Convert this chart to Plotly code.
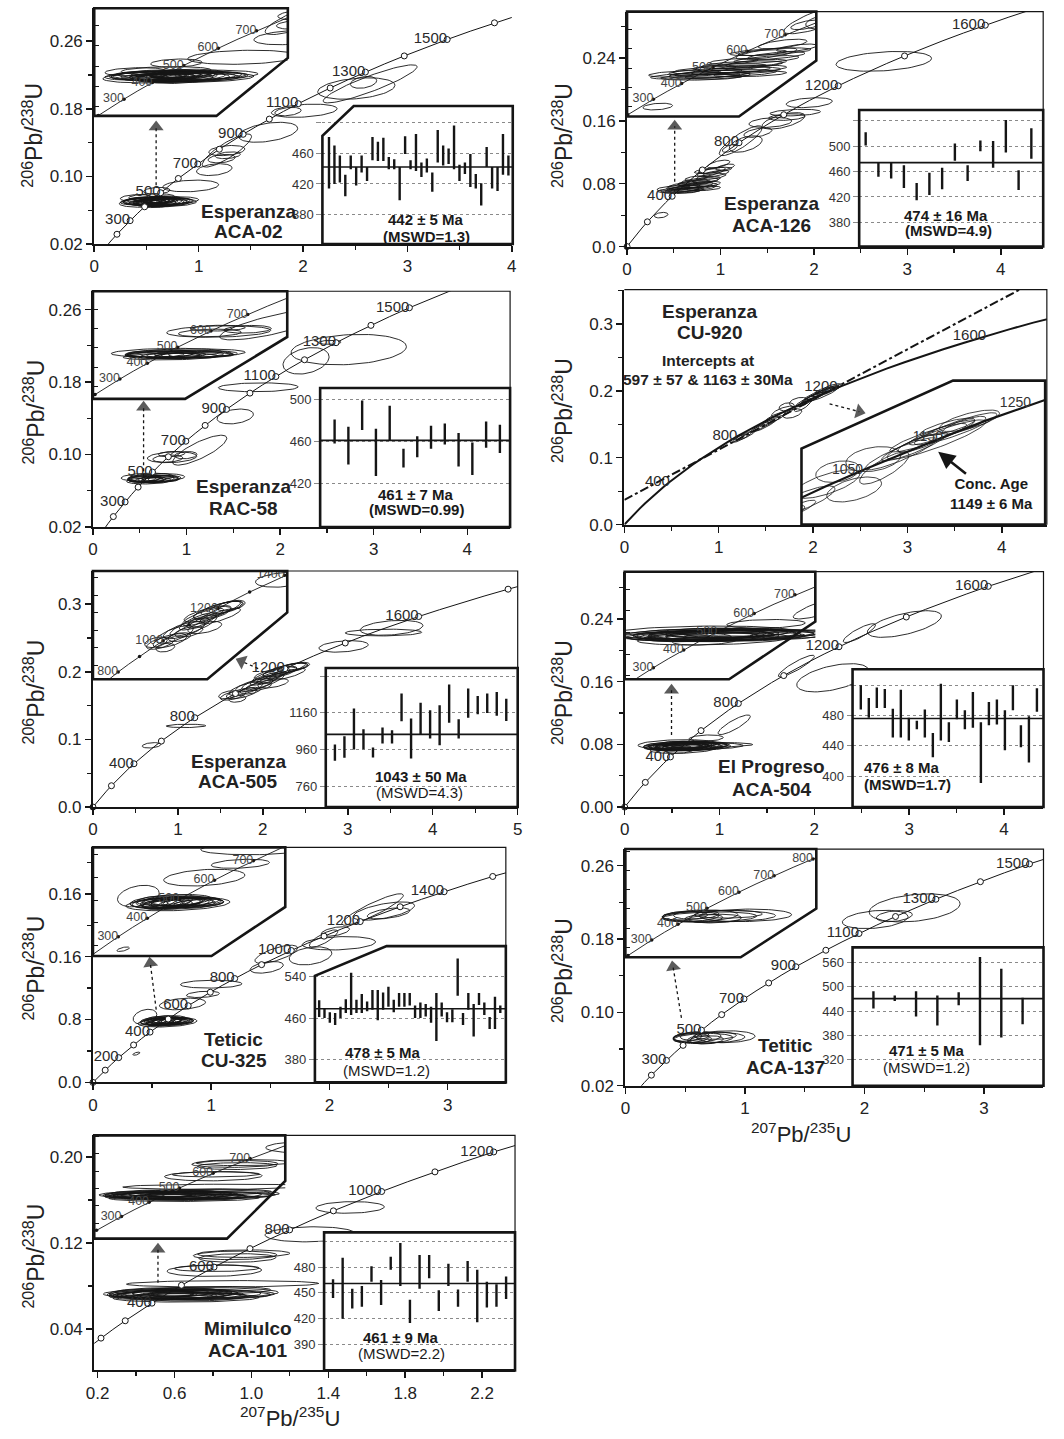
import math
import plotly.graph_objects as go

W, H = 1064, 1439
FONT = "Liberation Sans, Arial, Helvetica, sans-serif"
INK = "#151515"

# ---------------- concordia reference points (age Ma, 207Pb/235U, 206Pb/238U) ----------------
CONC_AGE = [0, 50, 100, 150, 200, 250, 300, 350, 400, 450, 500, 550, 600, 650, 700, 750,
            800, 850, 900, 950, 1000, 1050, 1100, 1150, 1200, 1250, 1300, 1350, 1400,
            1450, 1500, 1550, 1600, 1650, 1700, 1750, 1800, 1850, 1900]
CONC_X207 = [0.0, 0.0505, 0.1035, 0.1592, 0.2177, 0.2792, 0.3437, 0.4116, 0.4828, 0.5577,
             0.6363, 0.7189, 0.8056, 0.8968, 0.9925, 1.0931, 1.1987, 1.3097, 1.4263, 1.5488,
             1.6774, 1.8126, 1.9545, 2.1037, 2.2603, 2.4249, 2.5977, 2.7793, 2.9701, 3.1705,
             3.3810, 3.6021, 3.8344, 4.0784, 4.3348, 4.6040, 4.8869, 5.1841, 5.4962]
CONC_Y206 = [0.0, 0.00779, 0.01563, 0.02354, 0.03151, 0.03954, 0.04764, 0.05580, 0.06402,
             0.07230, 0.08065, 0.08906, 0.09754, 0.10609, 0.11470, 0.12338, 0.13213, 0.14094,
             0.14983, 0.15878, 0.16780, 0.17690, 0.18606, 0.19530, 0.20460, 0.21398, 0.22344,
             0.23296, 0.24256, 0.25224, 0.26199, 0.27181, 0.28172, 0.29170, 0.30175, 0.31189,
             0.32211, 0.33240, 0.34277]

# discordia intercepts, CU-920
DISC_AGE = [597, 1163]
DISC_X207 = [0.8003, 2.1436]
DISC_Y206 = [0.09703, 0.19771]

# ---------------- error ellipses (207/235, err, 206/238, err, rho) ----------------
ACA02_X = [0.50, 0.55, 0.60, 0.62, 0.58, 0.52, 0.66, 0.48, 0.57, 0.64, 0.54, 0.60, 0.70, 0.45, 0.62, 0.56, 0.68, 0.52, 0.74, 0.40, 0.65, 0.55,
           0.60, 0.924, 1.15, 1.22, 1.28, 1.271, 1.27, 1.665, 2.012, 1.856, 2.511, 2.58, 2.643,
           0.47, 0.63, 0.58, 0.71, 0.50, 0.60, 0.55, 0.67, 0.44, 0.61]
ACA02_SX = [0.22, 0.18, 0.20, 0.15, 0.12, 0.25, 0.28, 0.15, 0.10, 0.22, 0.30, 0.12, 0.25, 0.20, 0.16, 0.09, 0.30, 0.12, 0.26, 0.15, 0.18, 0.22,
            0.126, 0.268, 0.17, 0.13, 0.12, 0.236, 0.173, 0.284, 0.315, 0.126, 0.37, 0.126, 0.45,
            0.18, 0.26, 0.20, 0.20, 0.10, 0.32, 0.14, 0.12, 0.12, 0.08]
ACA02_Y = [0.0705, 0.0700, 0.0695, 0.0710, 0.0685, 0.0715, 0.0705, 0.0690, 0.0720, 0.0690, 0.0695, 0.0715, 0.0700, 0.0700, 0.0680, 0.0708, 0.0690, 0.0680, 0.0715, 0.0745, 0.0730, 0.0755,
           0.0830, 0.0887, 0.1080, 0.1210, 0.1250, 0.1306, 0.1306, 0.1522, 0.1777, 0.1767, 0.2040, 0.2113, 0.2095,
           0.0712, 0.0698, 0.0725, 0.0688, 0.0695, 0.0705, 0.0688, 0.0712, 0.0718, 0.0700]
ACA02_SY = [0.0045, 0.0040, 0.0050, 0.0040, 0.0040, 0.0050, 0.0040, 0.0035, 0.0040, 0.0045, 0.0060, 0.0030, 0.0050, 0.0040, 0.0050, 0.0030, 0.0050, 0.0040, 0.0045, 0.0040, 0.0040, 0.0040,
            0.0040, 0.0069, 0.0070, 0.0050, 0.0040, 0.0196, 0.0060, 0.0118, 0.0078, 0.0050, 0.0127, 0.0070, 0.0225,
            0.0040, 0.0045, 0.0035, 0.0040, 0.0035, 0.0050, 0.0040, 0.0035, 0.0035, 0.0030]
ACA02_RHO = [0.2, 0.2, 0.3, 0.2, 0.2, 0.3, 0.2, 0.2, 0.2, 0.2, 0.3, 0.2, 0.2, 0.2, 0.3, 0.2, 0.2, 0.2, 0.2, 0.2, 0.2, 0.2,
             0.2, 0.2, 0.3, 0.3, 0.3, 0.85, 0.3, 0.4, 0.3, 0.3, 0.3, 0.3, 0.9,
             0.2, 0.2, 0.2, 0.2, 0.2, 0.2, 0.2, 0.2, 0.2, 0.2]

ACA126_X = [0.55, 0.62, 0.70, 0.60, 0.75, 0.66, 0.80, 0.72, 0.85, 0.90, 0.95, 0.88, 0.58, 0.68, 0.78, 0.50, 0.65, 0.92, 0.82, 0.74, 1.05, 0.90, 0.98,
            0.365, 1.10, 1.216, 1.27, 1.40, 1.533, 1.674, 1.71, 1.80, 1.95, 2.748]
ACA126_SX = [0.22, 0.20, 0.25, 0.18, 0.22, 0.16, 0.20, 0.18, 0.15, 0.16, 0.14, 0.12, 0.20, 0.24, 0.20, 0.18, 0.10, 0.20, 0.18, 0.12, 0.10, 0.15, 0.12,
             0.073, 0.08, 0.229, 0.176, 0.15, 0.229, 0.229, 0.194, 0.27, 0.247, 0.511]
ACA126_Y = [0.0720, 0.0735, 0.0745, 0.0760, 0.0770, 0.0720, 0.0790, 0.0810, 0.0850, 0.0890, 0.0930, 0.0960, 0.0705, 0.0780, 0.0835, 0.0740, 0.0800, 0.0970, 0.0740, 0.0870, 0.1010, 0.0950, 0.1050,
            0.0400, 0.1250, 0.1347, 0.1305, 0.1450, 0.1579, 0.1600, 0.1648, 0.1705, 0.1831, 0.2357]
ACA126_SY = [0.0035, 0.0040, 0.0040, 0.0035, 0.0040, 0.0035, 0.0040, 0.0035, 0.0040, 0.0040, 0.0040, 0.0030, 0.0030, 0.0045, 0.0040, 0.0035, 0.0030, 0.0040, 0.0030, 0.0030, 0.0040, 0.0060, 0.0050,
             0.0035, 0.0050, 0.0190, 0.0105, 0.0060, 0.0063, 0.0105, 0.0042, 0.0042, 0.0063, 0.0126]
ACA126_RHO = [0.5, 0.5, 0.5, 0.5, 0.5, 0.4, 0.5, 0.5, 0.6, 0.6, 0.6, 0.5, 0.3, 0.5, 0.5, 0.4, 0.4, 0.6, 0.4, 0.5, 0.6, 0.7, 0.6,
              0.3, 0.6, 0.85, 0.5, 0.5, 0.3, 0.6, 0.3, 0.3, 0.3, 0.3]

RAC58_X = [0.62, 0.58, 0.66, 0.60, 0.70, 0.55, 0.64, 0.68, 0.52, 0.72, 0.62, 0.60, 0.75, 0.58,
           0.845, 0.84, 0.80, 1.14, 0.992, 1.52, 1.766, 2.277, 2.733, 2.53]
RAC58_SX = [0.25, 0.20, 0.28, 0.15, 0.22, 0.18, 0.12, 0.30, 0.15, 0.20, 0.10, 0.24, 0.16, 0.28,
            0.264, 0.14, 0.16, 0.29, 0.12, 0.194, 0.426, 0.246, 0.616, 0.12]
RAC58_Y = [0.0730, 0.0725, 0.0735, 0.0720, 0.0728, 0.0740, 0.0715, 0.0745, 0.0732, 0.0722, 0.0738, 0.0710, 0.0735, 0.0750,
           0.0970, 0.1005, 0.0955, 0.1048, 0.0993, 0.1420, 0.1742, 0.2034, 0.2158, 0.2238]
RAC58_SY = [0.0040, 0.0035, 0.0040, 0.0030, 0.0035, 0.0040, 0.0030, 0.0045, 0.0035, 0.0030, 0.0030, 0.0035, 0.0035, 0.0045,
            0.0060, 0.0030, 0.0040, 0.0165, 0.0040, 0.0082, 0.0049, 0.0146, 0.0168, 0.0022]
RAC58_RHO = [0.2, 0.2, 0.2, 0.2, 0.2, 0.2, 0.2, 0.2, 0.2, 0.2, 0.2, 0.2, 0.2, 0.2,
             0.2, 0.2, 0.2, 0.8, 0.2, 0.3, 0.1, 0.3, 0.2, 0.1]

CU920_X = [1.20, 1.25, 1.30, 1.42, 1.48, 1.54, 1.60, 1.68, 1.72, 1.78, 1.85, 1.89, 1.95, 2.00, 2.05, 2.10, 2.15, 2.20, 2.08, 2.12, 2.02, 2.18]
CU920_SX = [0.08, 0.10, 0.08, 0.09, 0.12, 0.10, 0.11, 0.12, 0.08, 0.10, 0.10, 0.09, 0.13, 0.12, 0.14, 0.12, 0.15, 0.11, 0.18, 0.10, 0.08, 0.08]
CU920_Y = [0.1285, 0.1310, 0.1335, 0.1440, 0.1480, 0.1530, 0.1600, 0.1690, 0.1760, 0.1660, 0.1830, 0.1780, 0.1860, 0.1900, 0.1950, 0.1980, 0.2000, 0.2045, 0.1940, 0.2010, 0.1920, 0.2020]
CU920_SY = [0.0060, 0.0080, 0.0060, 0.0060, 0.0090, 0.0070, 0.0080, 0.0080, 0.0060, 0.0070, 0.0070, 0.0090, 0.0090, 0.0080, 0.0080, 0.0070, 0.0090, 0.0060, 0.0110, 0.0050, 0.0050, 0.0050]
CU920_RHO = [0.9, 0.9, 0.9, 0.9, 0.9, 0.9, 0.8, 0.7, 0.3, 0.5, 0.3, 0.8, 0.9, 0.9, 0.9, 0.9, 0.9, 0.7, 0.9, 0.8, 0.8, 0.8]

ACA505_X = [1.65, 1.75, 1.80, 1.90, 2.00, 2.05, 2.10, 2.15, 2.20, 2.25, 2.30, 2.35, 1.95, 2.05, 1.85, 2.40, 1.70, 2.12, 1.60, 2.28,
            0.69, 1.095, 2.95, 3.42, 3.515]
ACA505_SX = [0.15, 0.18, 0.20, 0.22, 0.25, 0.20, 0.22, 0.25, 0.20, 0.25, 0.22, 0.18, 0.15, 0.12, 0.12, 0.15, 0.10, 0.18, 0.12, 0.22,
             0.11, 0.233, 0.29, 0.45, 0.37]
ACA505_Y = [0.165, 0.168, 0.175, 0.180, 0.185, 0.190, 0.195, 0.198, 0.200, 0.203, 0.205, 0.206, 0.178, 0.188, 0.172, 0.208, 0.160, 0.183, 0.166, 0.196,
            0.0913, 0.1200, 0.2375, 0.2580, 0.2650]
ACA505_SY = [0.007, 0.008, 0.010, 0.010, 0.012, 0.010, 0.010, 0.009, 0.008, 0.010, 0.008, 0.007, 0.006, 0.006, 0.005, 0.006, 0.005, 0.007, 0.006, 0.009,
             0.004, 0.0025, 0.0085, 0.005, 0.011]
ACA505_RHO = [0.6, 0.6, 0.7, 0.7, 0.8, 0.8, 0.8, 0.7, 0.7, 0.8, 0.7, 0.6, 0.5, 0.5, 0.4, 0.5, 0.3, 0.5, 0.4, 0.8,
              0.3, 0.1, 0.3, 0.1, 0.3]

ACA504_X = [0.60, 0.55, 0.65, 0.62, 0.58, 0.70, 0.52, 0.68, 0.60, 0.75, 0.66, 0.56, 0.64, 0.72, 0.50, 0.78, 0.62, 0.90, 0.58,
            0.86, 1.155, 1.81, 2.195, 2.475, 2.95,
            0.64, 0.60, 0.70, 0.57, 0.66]
ACA504_SX = [0.40, 0.35, 0.45, 0.30, 0.25, 0.38, 0.30, 0.28, 0.20, 0.50, 0.18, 0.42, 0.22, 0.32, 0.20, 0.30, 0.35, 0.45, 0.15,
             0.18, 0.17, 0.19, 0.38, 0.17, 0.39,
             0.38, 0.28, 0.42, 0.32, 0.26]
ACA504_Y = [0.0780, 0.0770, 0.0785, 0.0760, 0.0790, 0.0775, 0.0765, 0.0795, 0.0770, 0.0780, 0.0760, 0.0800, 0.0785, 0.0765, 0.0755, 0.0790, 0.0740, 0.0795, 0.0725,
            0.0880, 0.1050, 0.1800, 0.1650, 0.2220, 0.2336,
            0.0772, 0.0782, 0.0768, 0.0778, 0.0788]
ACA504_SY = [0.0060, 0.0050, 0.0055, 0.0045, 0.0050, 0.0050, 0.0045, 0.0040, 0.0040, 0.0045, 0.0035, 0.0060, 0.0035, 0.0040, 0.0040, 0.0040, 0.0055, 0.0030, 0.0040,
             0.0040, 0.0125, 0.0138, 0.0180, 0.0120, 0.0170,
             0.0050, 0.0045, 0.0050, 0.0045, 0.0040]
ACA504_RHO = [0.2, 0.2, 0.2, 0.2, 0.2, 0.2, 0.2, 0.2, 0.2, 0.1, 0.2, 0.2, 0.2, 0.2, 0.2, 0.1, 0.3, 0.1, 0.3,
              0.2, 0.85, 0.9, 0.5, 0.85, 0.6,
              0.2, 0.2, 0.2, 0.2, 0.2]

CU325_X = [0.60, 0.62, 0.58, 0.65, 0.60, 0.55, 0.68, 0.63, 0.57, 0.66, 0.61, 0.70, 0.75, 0.44, 0.52,
           0.367, 0.757, 0.93, 1.00, 1.47, 1.55, 1.84, 2.08, 1.95, 2.05, 2.365, 2.46, 2.50,
           0.59, 0.64, 0.56, 0.62, 0.67, 0.60, 0.71, 0.58]
CU325_SX = [0.15, 0.12, 0.18, 0.20, 0.10, 0.14, 0.12, 0.25, 0.08, 0.08, 0.18, 0.15, 0.10, 0.10, 0.06,
            0.03, 0.195, 0.14, 0.26, 0.14, 0.18, 0.18, 0.31, 0.12, 0.12, 0.26, 0.26, 0.18,
            0.16, 0.14, 0.10, 0.22, 0.16, 0.06, 0.10, 0.12]
CU325_Y = [0.0780, 0.0775, 0.0785, 0.0770, 0.0790, 0.0775, 0.0780, 0.0765, 0.0770, 0.0785, 0.0800, 0.0775, 0.0780, 0.0835, 0.0760,
           0.0366, 0.0998, 0.1120, 0.1250, 0.1464, 0.1630, 0.1610, 0.1770, 0.1830, 0.1920, 0.2200, 0.2180, 0.2150,
           0.0782, 0.0772, 0.0795, 0.0779, 0.0790, 0.0770, 0.0768, 0.0760]
CU325_SY = [0.0050, 0.0040, 0.0060, 0.0050, 0.0040, 0.0050, 0.0040, 0.0060, 0.0035, 0.0035, 0.0050, 0.0040, 0.0030, 0.0095, 0.0040,
            0.0020, 0.0074, 0.0040, 0.0050, 0.0074, 0.0115, 0.0115, 0.0085, 0.0110, 0.0060, 0.0200, 0.0116, 0.0070,
            0.0045, 0.0045, 0.0040, 0.0050, 0.0040, 0.0030, 0.0035, 0.0045]
CU325_RHO = [0.3, 0.3, 0.3, 0.3, 0.3, 0.3, 0.3, 0.3, 0.3, 0.3, 0.3, 0.2, 0.2, 0.3, 0.3,
             0.6, 0.3, 0.3, 0.1, 0.4, 0.7, 0.3, 0.2, 0.8, 0.5, 0.9, 0.6, 0.5,
             0.3, 0.3, 0.3, 0.3, 0.3, 0.3, 0.3, 0.3]

ACA137_X = [0.55, 0.60, 0.65, 0.58, 0.70, 0.84, 0.62, 0.52, 0.75, 0.68, 2.09, 2.42, 2.25]
ACA137_SX = [0.15, 0.20, 0.25, 0.12, 0.30, 0.245, 0.10, 0.12, 0.18, 0.14, 0.275, 0.38, 0.15]
ACA137_Y = [0.0720, 0.0730, 0.0715, 0.0740, 0.0725, 0.0734, 0.0705, 0.0730, 0.0745, 0.0700, 0.2014, 0.2140, 0.2050]
ACA137_SY = [0.0050, 0.0060, 0.0055, 0.0045, 0.0060, 0.0065, 0.0040, 0.0045, 0.0040, 0.0045, 0.0100, 0.0153, 0.0060]
ACA137_RHO = [0.2, 0.2, 0.2, 0.2, 0.1, 0.1, 0.2, 0.2, 0.1, 0.2, 0.3, 0.3, 0.3]

ACA101_X = [0.60, 0.65, 0.70, 0.55, 0.62, 0.58, 0.68, 0.52, 0.75, 0.63, 0.57, 0.72, 0.48, 0.66, 0.60, 0.80, 0.85,
            0.807, 0.82, 0.915, 0.927, 0.96, 1.305, 1.513,
            0.62, 0.68, 0.56, 0.72, 0.64, 0.54]
ACA101_SX = [0.30, 0.40, 0.44, 0.25, 0.20, 0.35, 0.30, 0.18, 0.35, 0.15, 0.28, 0.25, 0.22, 0.38, 0.12, 0.30, 0.50,
             0.246, 0.22, 0.217, 0.20, 0.24, 0.234, 0.178,
             0.34, 0.22, 0.30, 0.40, 0.26, 0.16]
ACA101_Y = [0.0720, 0.0725, 0.0735, 0.0715, 0.0710, 0.0730, 0.0700, 0.0725, 0.0715, 0.0735, 0.0745, 0.0705, 0.0720, 0.0690, 0.0725, 0.0760, 0.0820,
            0.0943, 0.0964, 0.1085, 0.1060, 0.1100, 0.1280, 0.1530,
            0.0718, 0.0728, 0.0708, 0.0722, 0.0740, 0.0732]
ACA101_SY = [0.0040, 0.0045, 0.0050, 0.0040, 0.0035, 0.0045, 0.0040, 0.0035, 0.0040, 0.0035, 0.0040, 0.0035, 0.0040, 0.0040, 0.0030, 0.0035, 0.0030,
             0.0054, 0.0030, 0.0040, 0.0040, 0.0035, 0.0070, 0.0054,
             0.0042, 0.0038, 0.0040, 0.0045, 0.0035, 0.0035]
ACA101_RHO = [0.1, 0.1, 0.1, 0.1, 0.1, 0.1, 0.1, 0.1, 0.1, 0.1, 0.1, 0.1, 0.1, 0.1, 0.1, 0.1, 0.1,
              0.1, 0.1, 0.1, 0.1, 0.1, 0.1, 0.1,
              0.1, 0.1, 0.1, 0.1, 0.1, 0.1]

# ---------------- weighted-mean 206Pb/238U ages (Ma): lower / upper error limits ----------------
WM_ACA02_LO = [414, 420, 422, 404, 439, 418, 435, 424, 451, 450, 450, 439, 439, 399, 459, 439, 437, 429, 435, 410, 448, 444, 446, 439, 424, 433, 416, 414, 392, 442, 414, 411, 432, 431]
WM_ACA02_HI = [481, 470, 457, 432, 457, 442, 457, 442, 481, 475, 480, 455, 452, 442, 482, 451, 485, 448, 453, 435, 490, 470, 466, 496, 445, 448, 459, 433, 421, 468, 442, 442, 485, 457]
WM_ACA126_LO = [501, 452, 449, 434, 415, 423, 432, 477, 445, 492, 466, 490, 431, 480]
WM_ACA126_HI = [522, 475, 475, 470, 442, 458, 466, 504, 470, 509, 508, 541, 462, 528]
WM_RAC58_LO = [458, 438, 471, 427, 461, 435, 445, 453, 457, 436, 428, 454, 449]
WM_RAC58_HI = [481, 474, 499, 472, 494, 453, 465, 475, 477, 468, 459, 479, 476]
WM_ACA505_LO = [898, 915, 960, 962, 916, 993, 993, 1115, 911, 1042, 1020, 984, 1107, 1020, 1133, 1153, 1160, 1144, 1116]
WM_ACA505_HI = [987, 1033, 1184, 1071, 971, 1080, 1066, 1266, 1129, 1215, 1175, 1202, 1316, 1126, 1293, 1253, 1266, 1275, 1238]
WM_ACA504_LO = [488, 477, 490, 490, 451, 451, 447, 462, 451, 425, 447, 445, 475, 462, 464, 391, 467, 468, 434, 487, 438, 418, 485]
WM_ACA504_HI = [520, 503, 517, 515, 489, 514, 477, 473, 488, 457, 522, 471, 501, 487, 511, 471, 498, 501, 487, 520, 467, 479, 516]
WM_CU325_LO = [462, 460, 451, 447, 460, 470, 466, 470, 470, 473, 476, 456, 476, 482, 471, 482, 482, 484, 460, 460, 463, 451, 416, 463, 452, 452, 503, 447, 476, 425, 485, 466, 439, 439, 470]
WM_CU325_HI = [494, 479, 471, 470, 482, 496, 547, 495, 506, 492, 514, 514, 509, 520, 495, 508, 508, 508, 484, 490, 487, 482, 508, 490, 471, 477, 574, 470, 508, 487, 508, 490, 462, 501, 484]
WM_ACA137_LO = [447, 465, 427, 405, 455, 356, 375, 408]
WM_ACA137_HI = [489, 479, 489, 479, 487, 574, 545, 473]
WM_ACA101_LO = [444, 420, 432, 434, 463, 436, 477, 458, 415, 455, 467, 429, 458, 434, 463, 416, 433, 434, 443]
WM_ACA101_HI = [466, 491, 455, 458, 481, 465, 492, 508, 442, 494, 494, 453, 484, 454, 487, 477, 463, 460, 469]
WM_MEAN = [442, 474, 461, None, 1043, 476, 478, 471, 461]

# ---------------- tick values / labels ----------------
XT_0_4 = [0, 1, 2, 3, 4]
XT_0_5 = [0, 1, 2, 3, 4, 5]
XT_0_3 = [0, 1, 2, 3]
XT_P9 = [0.2, 0.6, 1.0, 1.4, 1.8, 2.2]
XTL_P9 = ["0.2", "0.6", "1.0", "1.4", "1.8", "2.2"]
YT_A = [0.02, 0.10, 0.18, 0.26]
YTL_A = ["0.02", "0.10", "0.18", "0.26"]
YT_B = [0.0, 0.08, 0.16, 0.24]
YTL_P2 = ["0.0", "0.08", "0.16", "0.24"]
YTL_P6 = ["0.00", "0.08", "0.16", "0.24"]
YTL_P7 = ["0.0", "0.8", "0.16", "0.16"]
YT_C = [0.0, 0.1, 0.2, 0.3]
YTL_C = ["0.0", "0.1", "0.2", "0.3"]
YT_P9 = [0.04, 0.12, 0.20]
YTL_P9 = ["0.04", "0.12", "0.20"]

WMT_P1 = ([380, 420, 460, 500], ["380", "420", "460", ""])
WMT_P2 = ([380, 420, 460, 500, 540], ["380", "420", "460", "500", ""])
WMT_P3 = ([420, 460, 500], ["420", "460", "500"])
WMT_P5 = ([760, 960, 1160, 1360], ["760", "960", "1160", ""])
WMT_P6 = ([400, 440, 480, 520], ["400", "440", "480", ""])
WMT_P7 = ([380, 460, 540], ["380", "460", "540"])
WMT_P8 = ([320, 380, 440, 500, 560], ["320", "380", "440", "500", "560"])
WMT_P9 = ([390, 420, 450, 480, 510], ["390", "420", "450", "480", ""])

# concordia age labels
LAB_ODD = [300, 500, 700, 900, 1100, 1300, 1500]
LAB_400 = [400, 800, 1200, 1600]
LAB_P7 = [200, 400, 600, 800, 1000, 1200, 1400]
LAB_P9 = [400, 600, 800, 1000, 1200]
LAB_IN = [300, 400, 500, 600, 700]

# ---------------- helpers ----------------
def X(px):
    return px / W


def Y(py):
    return 1.0 - py / H


def ids(i):
    s = "" if i == 1 else str(i)
    return "xaxis" + s, "yaxis" + s, "x" + s, "y" + s


def ell_xy(ex, esx, ey, esy, erho, n=72):
    xs, ys = [], []
    for cx, sx, cy, sy, r in zip(ex, esx, ey, esy, erho):
        q = math.sqrt(max(0.0, 1 - r * r))
        for k in range(n + 1):
            t = 2 * math.pi * k / n
            xs.append(cx + sx * math.cos(t))
            ys.append(cy + sy * (r * math.cos(t) + q * math.sin(t)))
        xs.append(None)
        ys.append(None)
    return xs, ys


def mids(majors, lo, hi):
    st = majors[1] - majors[0]
    c = [majors[0] - st / 2] + [m + st / 2 for m in majors]
    return [v for v in c if lo - 1e-9 <= v <= hi + 1e-9]


def bbox(poly):
    xs = [p[0] for p in poly]
    ys = [p[1] for p in poly]
    return min(xs), max(xs), min(ys), max(ys)


def to_data(px, py, box, xr, yr):
    x0, x1, yt, yb = box
    return (xr[0] + (px - x0) / (x1 - x0) * (xr[1] - xr[0]),
            yr[0] + (yb - py) / (yb - yt) * (yr[1] - yr[0]))


def inside(x, y, xr, yr):
    return xr[0] <= x <= xr[1] and yr[0] <= y <= yr[1]


PANELS = [
    dict(ell=(ACA02_X, ACA02_SX, ACA02_Y, ACA02_SY, ACA02_RHO),
         main=(87.3, 510.0, 8.3, 245.7), xr=(0, 4), yr=(0.02, 0.299),
         xt=(XT_0_4, [str(v) for v in XT_0_4]), yt=(YT_A, YTL_A), lab=LAB_ODD, node=100, mirror=False, cw=1.0,
         ytitle=(25, 136), names=[("Esperanza", 243.3, 213.3), ("ACA-02", 243.3, 233.3)],
         arrow=(0.593, 0.0894, 0.593, 0.1585),
         tl=dict(poly=[(87.3, 116.7), (87.3, 8.3), (283.3, 8.3), (283.3, 58.3), (211, 116.7)],
                 xr=(0.198, 1.146), yr=(0.0312, 0.1368), lab=LAB_IN),
         wm=dict(poly=[(318.3, 245.7), (318.3, 136.7), (350, 106.7), (511, 106.7), (511, 245.7)],
                 xr=(-0.21, 34.8), yr=(342.0, 521.4), tk=WMT_P1, lo=WM_ACA02_LO, hi=WM_ACA02_HI,
                 txt=[("442 ± 5 Ma", 423.3, 220.7, True, "center"), ("(MSWD=1.3)", 423.3, 238.3, True, "center")])),
    dict(ell=(ACA126_X, ACA126_SX, ACA126_Y, ACA126_SY, ACA126_RHO),
         main=(626.7, 1048.0, 11.7, 248.3), xr=(0, 4.454), yr=(0.0, 0.299),
         xt=(XT_0_4, [str(v) for v in XT_0_4]), yt=(YT_B, YTL_P2), lab=LAB_400, node=200, mirror=True, cw=1.0,
         ytitle=(561.7, 136), names=[("Esperanza", 773.3, 205), ("ACA-126", 773.3, 226.7)],
         arrow=(0.51, 0.0825, 0.51, 0.153),
         tl=dict(poly=[(626.7, 117.3), (626.7, 11.7), (818.3, 11.7), (818.3, 61), (740, 117.3)],
                 xr=(0.214, 1.146), yr=(0.0297, 0.1387), lab=LAB_IN),
         wm=dict(poly=[(861.7, 248.3), (861.7, 110.7), (1048, 110.7), (1048, 248.3)],
                 xr=(0.49, 14.93), yr=(341.9, 557.0), tk=WMT_P2, lo=WM_ACA126_LO, hi=WM_ACA126_HI,
                 txt=[("474 ± 16 Ma", 950, 216.7, True, "center"), ("(MSWD=4.9)", 951.7, 231.7, True, "center")])),
    dict(ell=(RAC58_X, RAC58_SX, RAC58_Y, RAC58_SY, RAC58_RHO),
         main=(86.0, 508.3, 293.3, 530.7), xr=(0, 4.457), yr=(0.02, 0.2802),
         xt=(XT_0_4, [str(v) for v in XT_0_4]), yt=(YT_A, YTL_A), lab=LAB_ODD, node=100, mirror=True, cw=1.0,
         ytitle=(26.7, 415), names=[("Esperanza", 238.3, 490), ("RAC-58", 238.3, 511.7)],
         arrow=(0.541, 0.0682, 0.541, 0.1523),
         tl=dict(poly=[(86, 401.7), (86, 293.3), (282.7, 293.3), (282.7, 339.3), (179.3, 401.7)],
                 xr=(0.207, 1.193), yr=(0.027, 0.1388), lab=LAB_IN),
         wm=dict(poly=[(316, 530.7), (316, 390.7), (508.3, 390.7), (508.3, 530.7)],
                 xr=(-0.05, 13.74), yr=(378.3, 511.0), tk=WMT_P3, lo=WM_RAC58_LO, hi=WM_RAC58_HI,
                 txt=[("461 ± 7 Ma", 413.3, 498.3, True, "center"), ("(MSWD=0.99)", 413.3, 513.3, True, "center")])),
    dict(ell=(CU920_X, CU920_SX, CU920_Y, CU920_SY, CU920_RHO),
         main=(624.0, 1051.7, 291.7, 528.3), xr=(0, 4.478), yr=(0.0, 0.351),
         xt=(XT_0_4, [str(v) for v in XT_0_4]), yt=(YT_C, YTL_C), lab=LAB_400, node=None, mirror=True, cw=2.0,
         ytitle=(561.7, 413), names=[("Esperanza", 710, 313.3), ("CU-920", 710, 335)],
         arrow=(2.175, 0.1804, 2.49, 0.1687), disc=True,
         tl=None,
         conc=dict(poly=[(803.3, 528.3), (803.3, 451.7), (956.7, 383.3), (1050, 383.3), (1050, 528.3)],
                   xr=(1.588, 2.4765), yr=(0.1463, 0.2270), lab=[1050, 1150, 1250])),
    dict(ell=(ACA505_X, ACA505_SX, ACA505_Y, ACA505_SY, ACA505_RHO),
         main=(86.0, 516.0, 575.0, 812.7), xr=(0, 5), yr=(0.0, 0.349),
         xt=(XT_0_5, [str(v) for v in XT_0_5]), yt=(YT_C, YTL_C), lab=LAB_400, node=200, mirror=True, cw=1.0,
         ytitle=(26.7, 697), names=[("Esperanza", 233.3, 766.7), ("ACA-505", 233.3, 786.7)],
         arrow=(1.945, 0.2047, 1.75, 0.2155),
         tl=dict(poly=[(86, 684), (86, 575), (282.7, 575), (282.7, 616.7), (201.7, 684)],
                 xr=(0.93, 2.998), yr=(0.1238, 0.2475), lab=[800, 1000, 1200, 1400]),
         wm=dict(poly=[(321.7, 812.7), (321.7, 672.7), (516, 672.7), (516, 812.7)],
                 xr=(0.04, 20.2), yr=(645.4, 1405.5), tk=WMT_P5, lo=WM_ACA505_LO, hi=WM_ACA505_HI,
                 txt=[("1043 ± 50 Ma", 418.3, 781.7, True, "center"), ("(MSWD=4.3)", 416.7, 798.3, False, "center")])),
    dict(ell=(ACA504_X, ACA504_SX, ACA504_Y, ACA504_SY, ACA504_RHO),
         main=(624.3, 1048.3, 575.7, 812.7), xr=(0, 4.417), yr=(0.0, 0.3004),
         xt=(XT_0_4, [str(v) for v in XT_0_4]), yt=(YT_B, YTL_P6), lab=LAB_400, node=200, mirror=True, cw=1.0,
         ytitle=(561.7, 697), names=[("El Progreso", 773.3, 771.7), ("ACA-504", 773.3, 795)],
         arrow=(0.494, 0.0921, 0.494, 0.149),
         tl=dict(poly=[(624.3, 684), (624.3, 575.7), (817.3, 575.7), (817.3, 626), (730, 684)],
                 xr=(0.212, 1.086), yr=(0.037, 0.136), lab=LAB_IN),
         wm=dict(poly=[(855, 812.7), (855, 674), (1048.3, 674), (1048.3, 812.7)],
                 xr=(-0.03, 23.82), yr=(359.1, 541.0), tk=WMT_P6, lo=WM_ACA504_LO, hi=WM_ACA504_HI,
                 txt=[("476 ± 8 Ma", 865, 773.3, True, "left"), ("(MSWD=1.7)", 865, 790, True, "left")])),
    dict(ell=(CU325_X, CU325_SX, CU325_Y, CU325_SY, CU325_RHO),
         main=(86.0, 504.0, 853.3, 1090.0), xr=(0, 3.492), yr=(0.0, 0.299),
         xt=(XT_0_3, [str(v) for v in XT_0_3]), yt=(YT_B, YTL_P7), lab=LAB_P7, node=100, mirror=True, cw=1.0,
         ytitle=(26.7, 975), names=[("Teticic", 228.3, 1046.7), ("CU-325", 228.3, 1068.3)],
         arrow=(0.535, 0.0926, 0.485, 0.1516),
         tl=dict(poly=[(86, 962.7), (86, 853.3), (280.7, 853.3), (280.7, 913.3), (206, 962.7)],
                 xr=(0.222, 1.146), yr=(0.0306, 0.1265), lab=LAB_IN),
         wm=dict(poly=[(310.7, 1090), (310.7, 982.7), (383.3, 952.7), (504, 952.7), (504, 1090)],
                 xr=(0.2, 36.04), yr=(336.8, 598.0), tk=WMT_P7, lo=WM_CU325_LO, hi=WM_CU325_HI,
                 txt=[("478 ± 5 Ma", 380, 1060, True, "center"), ("(MSWD=1.2)", 383.3, 1078.3, False, "center")])),
    dict(ell=(ACA137_X, ACA137_SX, ACA137_Y, ACA137_SY, ACA137_RHO),
         main=(625.0, 1048.3, 855.0, 1093.3), xr=(0, 3.498), yr=(0.02, 0.2782),
         xt=(XT_0_3, [str(v) for v in XT_0_3]), yt=(YT_A, YTL_A), lab=LAB_ODD, node=100, mirror=True, cw=1.0,
         ytitle=(561.7, 977), names=[("Tetitic", 786.7, 1053.3), ("ACA-137", 786.7, 1075)],
         arrow=(0.469, 0.094, 0.399, 0.1496),
         tl=dict(poly=[(625, 964), (625, 855), (818.3, 855), (818.3, 915), (741.7, 964)],
                 xr=(0.204, 1.216), yr=(0.0297, 0.1424), lab=[300, 400, 500, 600, 700, 800]),
         wm=dict(poly=[(855, 1093.3), (855, 954), (1048.3, 954), (1048.3, 1093.3)],
                 xr=(0.02, 8.98), yr=(256.3, 597.5), tk=WMT_P8, lo=WM_ACA137_LO, hi=WM_ACA137_HI,
                 txt=[("471 ± 5 Ma", 930, 1058.3, True, "center"), ("(MSWD=1.2)", 930, 1075, False, "center")])),
    dict(ell=(ACA101_X, ACA101_SX, ACA101_Y, ACA101_SY, ACA101_RHO),
         main=(87.3, 513.3, 1143.3, 1380.0), xr=(0.1825, 2.371), yr=(0.0015, 0.22),
         xt=(XT_P9, XTL_P9), yt=(YT_P9, YTL_P9), lab=LAB_P9, node=100, mirror=True, cw=1.0,
         ytitle=(26.7, 1265), names=[("Mimilulco", 243.3, 1338.3), ("ACA-101", 243.3, 1360)],
         arrow=(0.514, 0.083, 0.514, 0.1142),
         tl=dict(poly=[(87.3, 1247.3), (87.3, 1143.3), (280.7, 1143.3), (280.7, 1189.3), (221.7, 1247.3)],
                 xr=(0.206, 1.170), yr=(0.0219, 0.1416), lab=LAB_IN),
         wm=dict(poly=[(320, 1380), (320, 1241), (513.3, 1241), (513.3, 1380)],
                 xr=(0.07, 19.93), yr=(359.9, 520.4), tk=WMT_P9, lo=WM_ACA101_LO, hi=WM_ACA101_HI,
                 txt=[("461 ± 9 Ma", 398.3, 1346.7, True, "center"), ("(MSWD=2.2)", 398.3, 1363.3, False, "center")])),
]

fig = go.Figure()
lay = {}
shapes = []
annos = []


def txt(s, px, py, size, bold=False, color="#1a1a1a", xanchor="center", angle=0):
    annos.append(dict(text=("<b>%s</b>" % s) if bold else s, x=X(px), y=Y(py), xref="paper", yref="paper",
                      showarrow=False, xanchor=xanchor, yanchor="middle", textangle=angle,
                      font=dict(size=size, color=color, family=FONT)))


def add(tr, xa, ya):
    tr.update(xaxis=xa, yaxis=ya, hoverinfo="skip", showlegend=False)
    fig.add_trace(tr)


def poly_shapes(poly, box, xr, yr, xa, ya):
    pts = [to_data(px, py, box, xr, yr) for px, py in poly]
    path = "M " + " L ".join("%.6f,%.6f" % p for p in pts) + " Z"
    shapes.append(dict(type="path", path=path, xref=xa, yref=ya, layer="below",
                       fillcolor="white", line=dict(width=0)))
    ppath = "M " + " L ".join("%.6f,%.6f" % (X(px), Y(py)) for px, py in poly) + " Z"
    shapes.append(dict(type="path", path=ppath, xref="paper", yref="paper", layer="above",
                       fillcolor="rgba(0,0,0,0)", line=dict(color=INK, width=2.6)))


tl_id = 10
for pi, P in enumerate(PANELS):
    mi = pi + 1
    xk, yk, mx, my = ids(mi)
    x0, x1, yt, yb = P["main"]
    xtv, xtt = P["xt"]
    ytv, ytt = P["yt"]
    common = dict(showline=True, linewidth=2, linecolor=INK, mirror=False, ticks="outside",
                  ticklen=6, tickwidth=1.5, tickcolor=INK, showgrid=False, zeroline=False,
                  tickfont=dict(size=17, color="#222", family=FONT), tickmode="array", fixedrange=True)
    lay[xk] = dict(domain=[X(x0), X(x1)], range=list(P["xr"]), anchor=my, tickvals=xtv, ticktext=xtt,
                   minor=dict(ticks="outside", ticklen=4, tickwidth=1.2, tickcolor=INK, tickmode="array",
                              tickvals=mids(xtv, *P["xr"]), showgrid=False), **common)
    lay[yk] = dict(domain=[Y(yb), Y(yt)], range=list(P["yr"]), anchor=mx, tickvals=ytv, ticktext=ytt,
                   minor=dict(ticks="outside", ticklen=4, tickwidth=1.2, tickcolor=INK, tickmode="array",
                              tickvals=mids(ytv, *P["yr"]), showgrid=False), **common)
    if P["mirror"]:
        shapes.append(dict(type="path", xref="paper", yref="paper", layer="below",
                           path="M %f,%f L %f,%f L %f,%f" % (X(x0), Y(yt), X(x1), Y(yt), X(x1), Y(yb)),
                           line=dict(color=INK, width=1.2)))

    ex, ey = ell_xy(*P["ell"])
    # concordia
    add(go.Scatter(x=CONC_X207, y=CONC_Y206, mode="lines", line=dict(color=INK, width=P["cw"])), mx, my)
    if P.get("disc"):
        sl = (DISC_Y206[1] - DISC_Y206[0]) / (DISC_X207[1] - DISC_X207[0])
        y0 = DISC_Y206[0] - sl * DISC_X207[0]
        add(go.Scatter(x=[0, P["xr"][1]], y=[y0, y0 + sl * P["xr"][1]], mode="lines",
                       line=dict(color=INK, width=2, dash="dashdot")), mx, my)
    add(go.Scatter(x=ex, y=ey, mode="lines", line=dict(color=INK, width=0.9)), mx, my)
    if P["node"]:
        sel = [(x, y) for a, x, y in zip(CONC_AGE, CONC_X207, CONC_Y206)
               if a % P["node"] == 0 and inside(x, y, P["xr"], P["yr"])]
        add(go.Scatter(x=[s[0] for s in sel], y=[s[1] for s in sel], mode="markers", cliponaxis=False,
                       marker=dict(symbol="circle", size=6, color="white", line=dict(color=INK, width=1))), mx, my)
    lab = [(a, x, y) for a, x, y in zip(CONC_AGE, CONC_X207, CONC_Y206) if a in P["lab"]]
    add(go.Scatter(x=[l[1] for l in lab], y=[l[2] for l in lab], text=[str(l[0]) for l in lab],
                   mode="text", textposition="middle left", cliponaxis=False,
                   textfont=dict(size=15, color="#2a2a2a", family=FONT)), mx, my)
    a = P["arrow"]
    add(go.Scatter(x=[a[0], a[2]], y=[a[1], a[3]], mode="lines+markers",
                   line=dict(color=INK, width=1.3, dash="dot"),
                   marker=dict(symbol="triangle-up", size=[0, 13], color=INK, angleref="previous",
                               line=dict(width=0))), mx, my)

    # y title
    txt("<sup>206</sup>Pb/<sup>238</sup>U", P["ytitle"][0], P["ytitle"][1], 23, angle=-90, color="#222")
    for s, px, py in P["names"]:
        txt(s, px, py, 19, bold=True, color="#222")

    # top-left zoom inset
    T = P.get("tl")
    if T:
        xk2, yk2, ix, iy = ids(tl_id)
        tl_id += 1
        bx0, bx1, by0, by1 = bbox(T["poly"])
        lay[xk2] = dict(domain=[X(bx0), X(bx1)], range=list(T["xr"]), anchor=iy, showline=False,
                        showticklabels=False, ticks="", showgrid=False, zeroline=False, fixedrange=True)
        lay[yk2] = dict(domain=[Y(by1), Y(by0)], range=list(T["yr"]), anchor=ix, showline=False,
                        showticklabels=False, ticks="inside", ticklen=5, tickwidth=1, tickcolor=INK,
                        tickmode="linear", tick0=0, dtick=0.02, showgrid=False, zeroline=False, fixedrange=True)
        poly_shapes(T["poly"], (bx0, bx1, by0, by1), T["xr"], T["yr"], ix, iy)
        add(go.Scatter(x=CONC_X207, y=CONC_Y206, mode="lines", line=dict(color=INK, width=0.9)), ix, iy)
        sel = [(x, y) for a_, x, y in zip(CONC_AGE, CONC_X207, CONC_Y206)
               if a_ % 100 == 0 and inside(x, y, T["xr"], T["yr"])]
        add(go.Scatter(x=[s[0] for s in sel], y=[s[1] for s in sel], mode="markers",
                       marker=dict(size=3.5, color=INK)), ix, iy)
        add(go.Scatter(x=ex, y=ey, mode="lines", line=dict(color=INK, width=0.9)), ix, iy)
        lab = [(a_, x, y) for a_, x, y in zip(CONC_AGE, CONC_X207, CONC_Y206) if a_ in T["lab"]]
        add(go.Scatter(x=[l[1] for l in lab], y=[l[2] for l in lab], text=[str(l[0]) for l in lab],
                       mode="text", textposition="middle left",
                       textfont=dict(size=12.5, color="#444", family=FONT)), ix, iy)

    # lower-right inset (weighted mean, or concordia zoom for CU-920)
    xk3, yk3, wx, wy = ids(18 + pi)
    if P.get("wm"):
        M = P["wm"]
        bx0, bx1, by0, by1 = bbox(M["poly"])
        lay[xk3] = dict(domain=[X(bx0), X(bx1)], range=list(M["xr"]), anchor=wy, showline=False,
                        showticklabels=False, ticks="", showgrid=False, zeroline=False, fixedrange=True)
        lay[yk3] = dict(domain=[Y(by1), Y(by0)], range=list(M["yr"]), anchor=wx, showline=False,
                        tickmode="array", tickvals=M["tk"][0], ticktext=M["tk"][1],
                        ticks="outside", ticklen=5, tickwidth=1, tickcolor="#8a8a8a",
                        tickfont=dict(size=13, color="#333", family=FONT),
                        showgrid=True, gridcolor="#8a8a8a", gridwidth=1, griddash="3px,3px",
                        zeroline=False, fixedrange=True)
        poly_shapes(M["poly"], (bx0, bx1, by0, by1), M["xr"], M["yr"], wx, wy)
        bxs, bys = [], []
        for k, (lo, hi) in enumerate(zip(M["lo"], M["hi"])):
            bxs += [k + 1, k + 1, None]
            bys += [lo, hi, None]
        add(go.Scatter(x=[M["xr"][0], M["xr"][1]], y=[WM_MEAN[pi], WM_MEAN[pi]], mode="lines",
                       line=dict(color=INK, width=1.6)), wx, wy)
        add(go.Scatter(x=bxs, y=bys, mode="lines", line=dict(color=INK, width=2.4)), wx, wy)
        for s, px, py, bold, anc in M["txt"]:
            txt(s, px, py, 15, bold=bold, color="#1a1a1a", xanchor=anc)
    if P.get("conc"):
        C = P["conc"]
        bx0, bx1, by0, by1 = bbox(C["poly"])
        lay[xk3] = dict(domain=[X(bx0), X(bx1)], range=list(C["xr"]), anchor=wy, showline=False,
                        showticklabels=False, ticks="", showgrid=False, zeroline=False, fixedrange=True)
        lay[yk3] = dict(domain=[Y(by1), Y(by0)], range=list(C["yr"]), anchor=wx, showline=False,
                        showticklabels=False, ticks="", showgrid=False, zeroline=False, fixedrange=True)
        poly_shapes(C["poly"], (bx0, bx1, by0, by1), C["xr"], C["yr"], wx, wy)
        add(go.Scatter(x=CONC_X207, y=CONC_Y206, mode="lines", line=dict(color=INK, width=2.2)), wx, wy)
        add(go.Scatter(x=ex, y=ey, mode="lines", line=dict(color=INK, width=0.8)), wx, wy)
        lab = [(a_, x, y) for a_, x, y in zip(CONC_AGE, CONC_X207, CONC_Y206) if a_ in C["lab"]]
        add(go.Scatter(x=[l[1] for l in lab], y=[l[2] for l in lab], text=[str(l[0]) for l in lab],
                       mode="text", textposition="middle left",
                       textfont=dict(size=14, color="#333", family=FONT)), wx, wy)

# CU-920 extra text
txt("Intercepts at", 708.3, 363.3, 15.5, bold=True, color="#222")
txt("597 ± 57 & 1163 ± 30Ma", 708.3, 381.7, 15.5, bold=True, color="#222")
annos.append(dict(x=X(941.7), y=Y(455), xref="paper", yref="paper", ax=53, ay=42,
                  text="<b>Conc. Age<br>1149 ± 6 Ma</b>", showarrow=True, arrowhead=2, arrowsize=1.3,
                  arrowwidth=2.6, arrowcolor=INK, standoff=0, align="center",
                  font=dict(size=15, color="#1a1a1a", family=FONT)))

# x-axis titles
txt("<sup>207</sup>Pb/<sup>235</sup>U", 803, 1141, 22, color="#222")
txt("<sup>207</sup>Pb/<sup>235</sup>U", 285, 1427, 22, color="#222")

fig.update_layout(width=W, height=H, margin=dict(l=0, r=0, t=0, b=0), paper_bgcolor="white",
                  plot_bgcolor="rgba(0,0,0,0)", showlegend=False, font=dict(family=FONT, color=INK),
                  shapes=shapes, annotations=annos, **lay)
fig.write_html("out.html", config={"displayModeBar": False, "staticPlot": True},
               post_script="document.body.style.margin='0px';document.body.style.padding='0px';")
